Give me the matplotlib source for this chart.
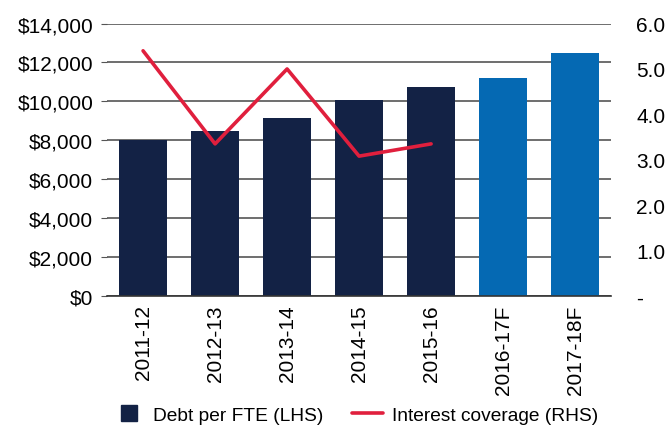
import numpy as np
import matplotlib
matplotlib.use("Agg")
import matplotlib.pyplot as plt
from matplotlib.ticker import FuncFormatter
from matplotlib.lines import Line2D

years = ["2011-12", "2012-13", "2013-14", "2014-15", "2015-16", "2016-17F", "2017-18F"]
debt_per_fte = [8000, 8500, 9130, 10060, 10750, 11200, 12500]
forecast = [False, False, False, False, False, True, True]
cover_years = years[:5]
interest_cover = [5.40, 3.35, 5.00, 3.08, 3.35]

NAVY = "#132245"
BLUE = "#0569B3"
RED = "#E01F3D"

plt.rcParams["font.family"] = ["Liberation Sans", "DejaVu Sans"]
plt.rcParams["font.size"] = 15

fig = plt.figure(figsize=(6.65, 4.31), dpi=100)
ax = fig.add_axes([0.161, 0.311, 0.758, 0.632])
x = np.arange(len(years))
cols = [BLUE if f else NAVY for f in forecast]
ax.bar(x, debt_per_fte, width=0.66, color=cols, zorder=2)
ax.set_ylim(0, 14000)
ax.set_yticks(np.arange(0, 14001, 2000))
ax.yaxis.set_major_formatter(FuncFormatter(lambda v, p: f"${v:,.0f}"))
ax.grid(axis="y", color="#555555", linewidth=1.2, zorder=0)
ax.set_axisbelow(True)
ax.set_xlim(-0.5, len(years) - 0.5)
ax.set_xticks(x)
ax.set_xticklabels(years, rotation=90)
ax.tick_params(axis="x", length=0, pad=6)
ax.tick_params(axis="y", length=4, width=0.8, color="#555555", pad=6)
for s in ["top", "right", "left"]:
    ax.spines[s].set_visible(False)
ax.spines["bottom"].set_color("#333333")
ax.spines["bottom"].set_linewidth(1.2)

ax2 = ax.twinx()
line, = ax2.plot(np.arange(len(cover_years)), interest_cover, color=RED, linewidth=2.6,
                 zorder=3, solid_capstyle="round")
ax2.set_ylim(0, 6)
ax2.set_yticks(np.arange(0, 6.1, 1))
ax2.yaxis.set_major_formatter(FuncFormatter(lambda v, p: "-" if v == 0 else f"{v:.1f}"))
ax2.tick_params(axis="y", length=0, pad=18)
for s in ["top", "right", "left", "bottom"]:
    ax2.spines[s].set_visible(False)

# square proxy so the bar key is narrower than the line key
sq = Line2D([], [], marker="s", linestyle="none", color=NAVY, markersize=11.5)
fig.legend([sq, line], ["Debt per FTE (LHS)", "Interest coverage (RHS)"],
           loc="lower center", bbox_to_anchor=(0.535, -0.025), ncol=2,
           frameon=False, fontsize=13.8, handlelength=1.6,
           columnspacing=1.5, handletextpad=0.45)

fig.savefig("out.png", dpi=100)
